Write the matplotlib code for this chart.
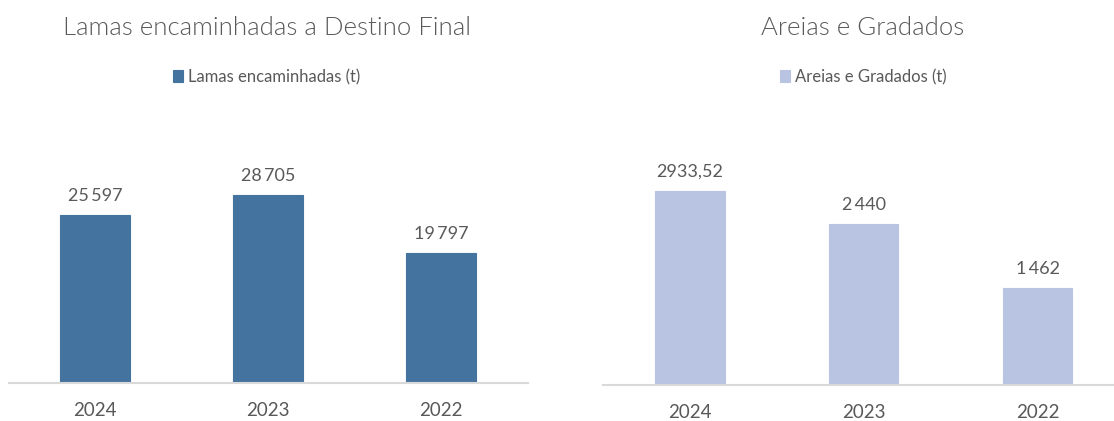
import matplotlib.pyplot as plt

# dados por ano
anos = ['2024', '2023', '2022']
lamas = [25597, 28705, 19797]
areias = [2933.52, 2440, 1462]

cor_lamas = '#43739E'
cor_areias = '#B9C3E2'
cinza = '#595959'

plt.rcParams['font.family'] = ['Lato', 'DejaVu Sans']


def fmt(v):
    # separador de milhares em espaco fino, decimal com virgula
    if v != int(v):
        return f'{v:.2f}'.replace('.', ',')
    return f'{int(v):,}'.replace(',', '\u2009')


fig = plt.figure(figsize=(11.14, 4.21), dpi=100)
W, H = 1114, 421


def painel(x0, x1, base, topo, xmax, dados, ymax, cor, titulo, legenda, cx):
    ax = fig.add_axes([x0 / W, (H - base) / H, (x1 - x0) / W, (base - topo) / H])
    pos = range(len(anos))
    barras = ax.bar(pos, dados, width=0.4, color=cor, edgecolor=cor, linewidth=0.8,
                    label=legenda)
    ax.set_xlim(-0.5, xmax)
    ax.set_ylim(0, ymax)
    for b, v in zip(barras, dados):
        ax.annotate(fmt(v), (b.get_x() + b.get_width() / 2, v), xytext=(0, 8),
                    textcoords='offset points', ha='center', va='bottom',
                    fontsize=13, color=cinza)
    ax.set_xticks(list(pos))
    ax.set_xticklabels(anos, fontsize=13.5, color=cinza)
    ax.tick_params(axis='x', length=0, pad=14)
    ax.set_yticks([])
    for s in ['top', 'left', 'right']:
        ax.spines[s].set_visible(False)
    ax.spines['bottom'].set_color('#D9D9D9')
    ax.spines['bottom'].set_linewidth(1.5)
    fig.text(cx / W, 1 - 28 / H, titulo, ha='center', va='center', fontsize=18.5,
             color=cinza, fontweight=300)
    leg = fig.legend(handles=[barras], labels=[legenda], loc='center',
                     bbox_to_anchor=(cx / W, 1 - 77 / H), frameon=False,
                     fontsize=12, handlelength=0.6, handleheight=0.7,
                     handletextpad=0.3, borderpad=0)
    for t in leg.get_texts():
        t.set_color(cinza)
    return ax


painel(8.5, 527.5, 383, 100, 2.5, lamas, 43200, cor_lamas,
       'Lamas encaminhadas a Destino Final', 'Lamas encaminhadas (t)', 267)
painel(603, 1114, 385, 100, 2.44, areias, 4311, cor_areias,
       'Areias e Gradados', 'Areias e Gradados (t)', 863)

fig.savefig('out.png', dpi=100)
